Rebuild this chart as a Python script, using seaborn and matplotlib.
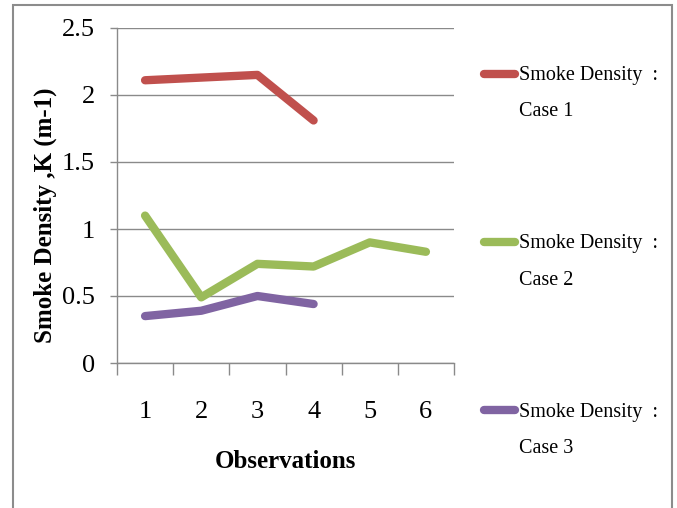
import matplotlib
matplotlib.use("Agg")
import matplotlib.pyplot as plt
import seaborn as sns
import pandas as pd
from matplotlib.patches import Rectangle
from matplotlib.ticker import FixedLocator

# Smoke density readings per observation for the three test cases
observations = [1, 2, 3, 4, 5, 6]
case1 = [2.11, 2.13, 2.15, 1.81]
case2 = [1.10, 0.49, 0.74, 0.72, 0.90, 0.83]
case3 = [0.35, 0.39, 0.50, 0.44]
series_names = ["Smoke Density  :\nCase 1",
                "Smoke Density  :\nCase 2",
                "Smoke Density  :\nCase 3"]
series_colors = ["#C0504D", "#9BBB59", "#8064A2"]
y_ticks = [0, 0.5, 1, 1.5, 2, 2.5]
y_tick_labels = ["0", "0.5", "1", "1.5", "2", "2.5"]
x_tick_labels = ["1", "2", "3", "4", "5", "6"]

sns.set_style("white")
plt.rcParams["font.family"] = ["Liberation Serif", "DejaVu Serif"]
plt.rcParams["text.color"] = "black"
plt.rcParams["axes.labelcolor"] = "black"

rows = []
for name, values in zip(series_names, [case1, case2, case3]):
    for obs, val in zip(observations, values):
        rows.append({"Observation": obs, "K": val, "Series": name})
df = pd.DataFrame(rows)

W, H = 677, 508
fig = plt.figure(figsize=(W / 100, H / 100), dpi=100)
ax = fig.add_axes([117 / W, 145 / H, 337 / W, 335 / H])

sns.lineplot(data=df, x="Observation", y="K", hue="Series",
             hue_order=series_names, palette=series_colors,
             linewidth=6.0, sort=False, legend=False, ax=ax)
for line in ax.lines:
    line.set_solid_capstyle("round")
    line.set_solid_joinstyle("round")

grey = "#8a8a8a"
ax.set_xlim(0.5, 6.5)
ax.set_ylim(0, 2.5)
ax.set_yticks(y_ticks)
ax.set_yticklabels(y_tick_labels)
ax.set_xticks(observations)
ax.set_xticklabels(x_tick_labels)
ax.xaxis.set_minor_locator(FixedLocator([0.5 + i for i in range(7)]))

ax.yaxis.grid(True, color=grey, linewidth=1)
ax.xaxis.grid(False)
for side in ("top", "right"):
    ax.spines[side].set_visible(False)
for side in ("left", "bottom"):
    ax.spines[side].set_color(grey)
    ax.spines[side].set_linewidth(1)

ax.tick_params(axis="y", which="major", direction="out", length=5,
               width=1, color=grey, pad=11, labelsize=19, left=True,
               labelcolor="black")
ax.tick_params(axis="x", which="major", length=0, pad=27, labelsize=19,
               labelcolor="black")
ax.tick_params(axis="x", which="minor", direction="out", length=8.6,
               width=1, color=grey, bottom=True)

ax.set_xlabel("Observations", fontsize=18, fontweight="bold", labelpad=20)
ax.set_ylabel("Smoke Density ,K (m-1)", fontsize=18, fontweight="bold")
ax.yaxis.set_label_coords(-0.178, 0.442)

leg = fig.legend(handles=ax.lines[:3], labels=series_names,
                 loc="upper left", bbox_to_anchor=(484 / W, 1 - 66 / H),
                 frameon=False, borderpad=0, borderaxespad=0,
                 handlelength=1.55, handletextpad=0.2, labelspacing=5.6,
                 prop={"family": ["Liberation Serif"], "size": 14.5})
for text in leg.get_texts():
    text.set_linespacing(2.25)
for handle in leg.legend_handles:
    handle.set_linewidth(6.0)
    handle.set_solid_capstyle("round")

# lift each legend swatch to sit beside the first line of its label
fig.canvas.draw()
for handle, text in zip(leg.legend_handles, leg.get_texts()):
    bb = text.get_window_extent()
    shift_px = (bb.y1 - bb.y0) / 4.0 + 6
    ydata = handle.get_ydata()
    handle.set_ydata([y + shift_px * 72 / fig.dpi for y in ydata])

fig.patches.append(Rectangle((13 / W, -0.05), (672 - 13) / W, 1.05 - 5 / H,
                             transform=fig.transFigure, fill=False,
                             edgecolor="#8c8c8c", linewidth=1.5))

fig.savefig("out.png", dpi=100)
